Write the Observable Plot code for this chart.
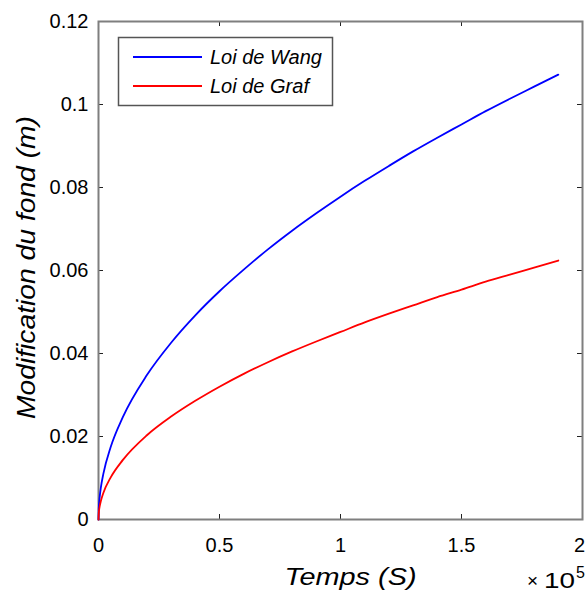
<!DOCTYPE html>
<html>
<head>
<meta charset="utf-8">
<script src="https://cdn.jsdelivr.net/npm/d3@7"></script>
<script src="https://cdn.jsdelivr.net/npm/@observablehq/plot@0.6"></script>
<style>
  html, body { margin: 0; padding: 0; background: #fff; }
  svg { display: block; }
</style>
</head>
<body>
<div id="chart"></div>
<script>
// ---- data ----
const seriesNames = ["Loi de Wang", "Loi de Graf"];
const seriesColors = ["#0000ff", "#ff0000"];
const time = [0, 100, 500, 1000, 2000, 5000, 10000, 20000, 30000, 40000, 50000, 60000, 70000, 80000, 90000, 100000, 110000, 120000, 130000, 140000, 150000, 160000, 170000, 180000, 190000];
const wang = [0, 0.0025, 0.0055, 0.0078, 0.011, 0.0174, 0.0246, 0.0348, 0.0426, 0.0492, 0.055, 0.0602, 0.0651, 0.0696, 0.0738, 0.0778, 0.0816, 0.0852, 0.0887, 0.092, 0.0952, 0.0984, 0.1014, 0.1043, 0.1072];
const graf = [0, 0.0014, 0.0032, 0.0045, 0.0064, 0.0101, 0.0143, 0.0203, 0.0248, 0.0286, 0.032, 0.0351, 0.0379, 0.0405, 0.0429, 0.0452, 0.0475, 0.0496, 0.0516, 0.0536, 0.0554, 0.0573, 0.059, 0.0607, 0.0624];
const xTicks = [0, 50000, 100000, 150000, 200000];
const yTicks = [0, 0.02, 0.04, 0.06, 0.08, 0.1, 0.12];
const xLabel = "Temps (S)";
const yLabel = "Modification du fond (m)";
const xExponent = "5";

// ---- layout ----
const W = 586, H = 596;
const mL = 98, mR = 4, mT = 21, mB = 77;
const innerW = W - mL - mR, innerH = H - mT - mB;
const font = "'Liberation Sans', Arial, Helvetica, sans-serif";

const rows = [];
time.forEach((t, i) => {
  rows.push({t, v: wang[i], s: seriesNames[0]});
});
time.forEach((t, i) => {
  rows.push({t, v: graf[i], s: seriesNames[1]});
});

const plot = Plot.plot({
  width: W, height: H,
  marginLeft: mL, marginRight: mR, marginTop: mT, marginBottom: mB,
  style: {fontFamily: font, fontSize: "20px", color: "#000", background: "#fff"},
  x: {domain: [0, 200000], label: null},
  y: {domain: [0, 0.12], label: null},
  color: {domain: seriesNames, range: seriesColors},
  marks: [
    Plot.axisX(xTicks, {tickSize: 0, tickPadding: 18, tickFormat: d => String(d / 1e5), fontSize: 20, fill: "#000"}),
    Plot.axisY(yTicks, {tickSize: 0, tickPadding: 10, tickFormat: d => String(d), fontSize: 20, fill: "#000"}),
    // inward ticks on all four sides
    Plot.tickX(xTicks, {x: d => d, insetTop: innerH - 5, stroke: "#222", strokeWidth: 1}),
    Plot.tickX(xTicks, {x: d => d, insetBottom: innerH - 5, stroke: "#222", strokeWidth: 1}),
    Plot.tickY(yTicks, {y: d => d, insetRight: innerW - 5, stroke: "#222", strokeWidth: 1}),
    Plot.tickY(yTicks, {y: d => d, insetLeft: innerW - 5, stroke: "#222", strokeWidth: 1}),
    Plot.frame({stroke: "#7f7f7f", strokeWidth: 2}),
    Plot.line(rows, {x: "t", y: "v", z: "s", stroke: "s", strokeWidth: 1.8, curve: "monotone-x"}),
    Plot.text([xLabel], {frameAnchor: "bottom", text: d => d, dx: 10, dy: 58, fontSize: 24, fontStyle: "italic", textAnchor: "middle", lineAnchor: "middle", fill: "#000"}),
    Plot.text([yLabel], {frameAnchor: "left", text: d => d, rotate: -90, dx: -72, dy: -3, fontSize: 25, fontStyle: "italic", textAnchor: "middle", lineAnchor: "middle", fill: "#000"})
  ]
});

document.getElementById("chart").appendChild(plot);

const svg = d3.select(plot);
// stretch axis titles to the reference's widths
svg.selectAll("text").filter(function() { return this.textContent === xLabel; })
  .attr("textLength", 132).attr("lengthAdjust", "spacingAndGlyphs");
svg.selectAll("text").filter(function() { return this.textContent === yLabel; })
  .attr("textLength", 303).attr("lengthAdjust", "spacingAndGlyphs");
// keep the last x tick label inside the picture
svg.selectAll('g[aria-label="x-axis tick label"] text')
  .filter(function() { return this.textContent === String(xTicks[xTicks.length - 1] / 1e5); })
  .attr("dx", -3);

// legend inside the axes (top-left)
const lg = svg.append("g").style("font-family", font).style("font-size", "20px")
  .style("font-style", "italic").attr("text-anchor", "start");
lg.append("rect").attr("x", 118.5).attr("y", 37.5).attr("width", 214).attr("height", 68)
  .attr("fill", "#fff").attr("stroke", "#555").attr("stroke-width", 1.5);
seriesNames.forEach((name, i) => {
  const y = 57 + i * 29;
  lg.append("line").attr("x1", 133).attr("x2", 202).attr("y1", y).attr("y2", y)
    .attr("stroke", seriesColors[i]).attr("stroke-width", 2);
  lg.append("text").attr("x", 210).attr("y", y + 7).attr("fill", "#000")
    .attr("text-anchor", "start").text(name);
});

// x10^5 multiplier
const mg = svg.append("g").style("font-family", font).attr("fill", "#000").attr("text-anchor", "start");
mg.append("text").attr("x", 527).attr("y", 587).style("font-size", "19px").text("×");
mg.append("text").attr("x", 544).attr("y", 588).style("font-size", "22px")
  .attr("textLength", 31).attr("lengthAdjust", "spacingAndGlyphs").text("10");
mg.append("text").attr("x", 576).attr("y", 578).style("font-size", "16px").text(xExponent);
</script>
</body>
</html>
